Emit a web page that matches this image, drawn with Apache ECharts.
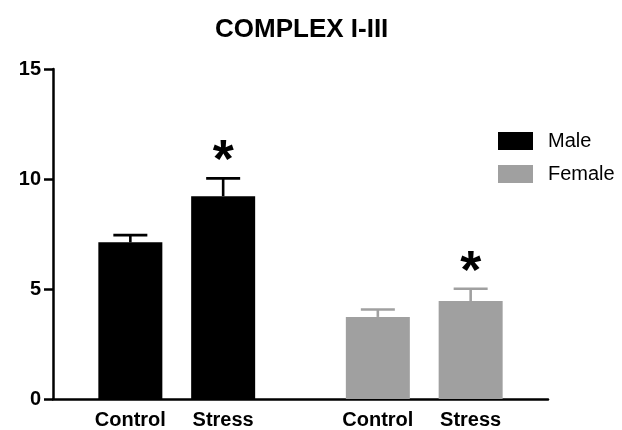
<!DOCTYPE html>
<html>
<head>
<meta charset="utf-8">
<script src="https://cdn.jsdelivr.net/npm/echarts@6/dist/echarts.min.js"></script>
<style>html,body{margin:0;padding:0;background:#fff;}#c{width:622px;height:430px;}</style>
</head>
<body>
<div id="c"></div>
<script>
// ---- data ----
const title = 'COMPLEX I-III';
const conditions = ['Control', 'Stress'];
const groups = ['Male', 'Female'];
const maleMean = [7.12, 9.22];
const maleErr = [0.33, 0.81];
const femaleMean = [3.73, 4.45];
const femaleErr = [0.34, 0.56];
const significant = [false, true]; // asterisk over Stress
const yTicks = [0, 5, 10, 15];

// ---- layout (slots on a category axis) ----
const SLOTS = 16;
const groupSlots = [[2, 5], [10, 13]];
const colors = ['#000000', '#a0a0a0'];
const font = '"Liberation Sans", Arial, sans-serif';

const cats = new Array(SLOTS).fill('');
groupSlots.forEach(sl => sl.forEach((s, i) => { cats[s] = conditions[i]; }));

const means = [maleMean, femaleMean];
const errs = [maleErr, femaleErr];

const barSeries = groups.map((g, gi) => {
  const d = new Array(SLOTS).fill(null);
  groupSlots[gi].forEach((s, i) => { d[s] = means[gi][i]; });
  return {
    name: g, type: 'bar', data: d, barWidth: 64, barGap: '-100%',
    itemStyle: { color: colors[gi] }, z: 2
  };
});

const errSeries = groups.map((g, gi) => ({
  name: g + ' err', type: 'custom', z: 3,
  data: groupSlots[gi].map((s, i) => [s, means[gi][i], errs[gi][i], significant[i] ? 1 : 0]),
  renderItem: function (params, api) {
    const x = api.value(0), m = api.value(1), e = api.value(2), star = api.value(3);
    const p0 = api.coord([x, m]);
    const p1 = api.coord([x, m + e]);
    const hw = 17;
    const st = { stroke: colors[gi], lineWidth: 2.6 };
    const children = [
      { type: 'line', shape: { x1: p0[0], y1: p0[1], x2: p1[0], y2: p1[1] }, style: st },
      { type: 'line', shape: { x1: p1[0] - hw, y1: p1[1], x2: p1[0] + hw, y2: p1[1] }, style: st }
    ];
    if (star) {
      children.push({
        type: 'text',
        style: {
          text: '*', x: p1[0], y: p1[1] + 11, align: 'center', verticalAlign: 'bottom',
          fontSize: 54, fontWeight: 'bold', fontFamily: font, fill: '#000'
        }
      });
    }
    return { type: 'group', children: children };
  }
}));

const chart = echarts.init(document.getElementById('c'));
chart.setOption({
  animation: false,
  backgroundColor: '#fff',
  title: {
    text: title, left: 210, top: 12,
    textStyle: { fontSize: 26, fontWeight: 'bold', fontFamily: font, color: '#000' }
  },
  legend: {
    data: groups, orient: 'vertical', left: 498, top: 131, padding: 0,
    itemWidth: 35, itemHeight: 18, itemGap: 13, icon: 'rect',
    textStyle: { fontSize: 20, fontFamily: font, color: '#000', padding: [0, 0, 0, 10] }
  },
  grid: { left: 53, right: 74, top: 69, bottom: 28, containLabel: false },
  xAxis: {
    type: 'category', data: cats, boundaryGap: true,
    axisLine: { lineStyle: { color: '#000', width: 2.5 } },
    axisTick: {
      alignWithLabel: true, length: 5, lineStyle: { color: '#000', width: 2.5 },
      interval: (i, v) => v !== ''
    },
    axisLabel: {
      interval: (i, v) => v !== '', margin: 11,
      fontSize: 20, fontWeight: 'bold', fontFamily: font, color: '#000'
    },
    splitLine: { show: false }
  },
  yAxis: {
    type: 'value', min: yTicks[0], max: yTicks[yTicks.length - 1], interval: yTicks[1] - yTicks[0],
    axisLine: { show: true, lineStyle: { color: '#000', width: 2.5 } },
    axisTick: { show: true, length: 9, lineStyle: { color: '#000', width: 2.5 } },
    axisLabel: { fontSize: 20, fontWeight: 'bold', fontFamily: font, color: '#000', margin: 12 },
    splitLine: { show: false }
  },
  series: barSeries.concat(errSeries)
});
</script>
</body>
</html>
